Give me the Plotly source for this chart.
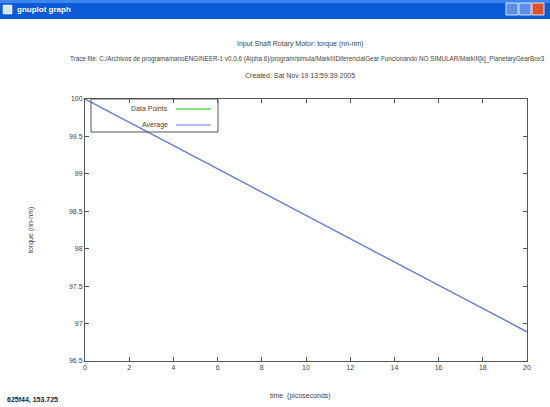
import plotly.graph_objects as go

# Data
time_ps = [0, 20]
data_points = [100.0, 96.89]
average = [100.0, 96.89]
x_ticks = [0, 2, 4, 6, 8, 10, 12, 14, 16, 18, 20]
y_ticks = [96.5, 97, 97.5, 98, 98.5, 99, 99.5, 100]
y_tick_labels = ["96.5", "97", "97.5", "98", "98.5", "99", "99.5", "100"]

W, H = 550, 407
L, R, T, B = 85, 23, 99, 46
PW, PH = W - L - R, H - T - B

def px(x):
    return (x - L) / PW

def py(y):
    return (H - B - y) / PH

FONT = "Liberation Sans, Arial, sans-serif"
TXT = "#444444"

fig = go.Figure()
fig.add_trace(go.Scatter(x=time_ps, y=data_points, mode="lines", name="Data Points",
                         line=dict(color="#00cc00", width=0.6), showlegend=False))
fig.add_trace(go.Scatter(x=time_ps, y=average, mode="lines", name="Average",
                         line=dict(color="#6a78ea", width=1.3), showlegend=False))

shapes = []
ann = []
# title bar
shapes.append(dict(type="rect", xref="paper", yref="paper", x0=px(0), x1=px(W), y0=py(19), y1=py(0),
                   fillcolor="#0b5ad8", line=dict(width=0), layer="below"))
shapes.append(dict(type="rect", xref="paper", yref="paper", x0=px(0), x1=px(W), y0=py(3), y1=py(0),
                   fillcolor="#3d86f0", line=dict(width=0), layer="below"))
shapes.append(dict(type="rect", xref="paper", yref="paper", x0=px(3), x1=px(12), y0=py(14), y1=py(5),
                   fillcolor="#d8e4f4", line=dict(width=0.5, color="#ffffff")))
for x0, col in [(506, "#5b8ee8"), (519, "#5b8ee8"), (532, "#e0502a")]:
    shapes.append(dict(type="rect", xref="paper", yref="paper", x0=px(x0), x1=px(x0 + 12), y0=py(15), y1=py(3),
                       fillcolor=col, line=dict(width=0.8, color="#ffffff")))
ann.append(dict(text="<b>gnuplot graph</b>", xref="paper", yref="paper", x=px(15), y=py(10),
                xanchor="left", yanchor="middle", showarrow=False,
                font=dict(family=FONT, size=8, color="white")))

# legend box
shapes.append(dict(type="rect", xref="paper", yref="paper", x0=px(91), x1=px(218), y0=py(132), y1=py(99),
                   fillcolor="rgba(0,0,0,0)", line=dict(width=1, color="#555555")))
shapes.append(dict(type="line", xref="paper", yref="paper", x0=px(176), x1=px(211), y0=py(109), y1=py(109),
                   line=dict(width=1, color="#00cc00")))
shapes.append(dict(type="line", xref="paper", yref="paper", x0=px(176), x1=px(211), y0=py(125), y1=py(125),
                   line=dict(width=1, color="#6a78ea")))
ann.append(dict(text="Data Points", xref="paper", yref="paper", x=px(170), y=py(109), xanchor="right",
                yanchor="middle", showarrow=False, font=dict(family=FONT, size=7, color=TXT)))
ann.append(dict(text="Average", xref="paper", yref="paper", x=px(170), y=py(125), xanchor="right",
                yanchor="middle", showarrow=False, font=dict(family=FONT, size=7, color=TXT)))

# titles
ann.append(dict(text="Input Shaft Rotary Motor: torque (nn-nm)", xref="paper", yref="paper", x=px(300), y=py(44),
                xanchor="center", yanchor="middle", showarrow=False, font=dict(family=FONT, size=7, color=TXT)))
ann.append(dict(text="Trace file: C:/Archivos de programa/nanoENGINEER-1 v0.0.6 (Alpha 6)/program/simula/MarkIIIDiferencialGear Funcionando NO SIMULAR/MarkIII[k]_PlanetaryGearBox3",
                xref="paper", yref="paper", x=px(547), y=py(59),
                xanchor="right", yanchor="middle", showarrow=False, font=dict(family=FONT, size=6.3, color=TXT)))
ann.append(dict(text="Created: Sat Nov 19 13:59:39 2005", xref="paper", yref="paper", x=px(300), y=py(75),
                xanchor="center", yanchor="middle", showarrow=False, font=dict(family=FONT, size=7, color=TXT)))
ann.append(dict(text="torque (nn-nm)", xref="paper", yref="paper", x=px(31), y=py(230), textangle=-90,
                xanchor="center", yanchor="middle", showarrow=False, font=dict(family=FONT, size=7, color=TXT)))
ann.append(dict(text="time  (picoseconds)", xref="paper", yref="paper", x=px(300), y=py(396),
                xanchor="center", yanchor="middle", showarrow=False, font=dict(family=FONT, size=7, color=TXT)))
ann.append(dict(text="<b>625f44, 153.725</b>", xref="paper", yref="paper", x=px(5), y=py(400),
                xanchor="left", yanchor="middle", showarrow=False, font=dict(family=FONT, size=7, color="#222222")))

axis_common = dict(showgrid=False, zeroline=False, showline=True, linecolor="#555555", linewidth=1,
                   mirror="ticks", ticks="inside", ticklen=4, tickcolor="#555555",
                   tickfont=dict(family=FONT, size=7, color=TXT))
fig.update_layout(
    width=W, height=H, margin=dict(l=L, r=R, t=T, b=B),
    paper_bgcolor="white", plot_bgcolor="white", showlegend=False,
    xaxis=dict(range=[0, 20], tickvals=x_ticks, ticktext=[str(v) for v in x_ticks], **axis_common),
    yaxis=dict(range=[96.5, 100], tickvals=y_ticks, ticktext=y_tick_labels, **axis_common),
    shapes=shapes, annotations=ann,
)
fig.write_html("out.html", config={"displayModeBar": False},
               post_script="document.body.style.margin='0px';document.body.style.overflow='hidden';")
